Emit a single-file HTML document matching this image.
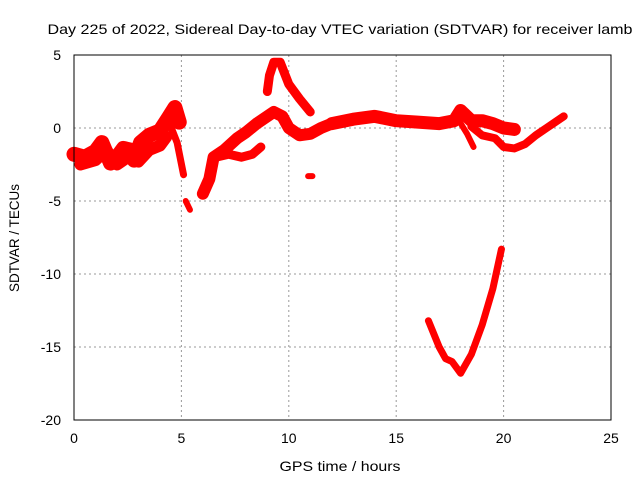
<!DOCTYPE html>
<html><head><meta charset="utf-8"><style>
body{margin:0;background:#fff;font-family:"Liberation Sans",sans-serif}
text{font-family:"Liberation Sans",sans-serif;font-size:14px;fill:#000}
</style></head><body>
<svg id="chart" width="640" height="480">
<text x="340" y="34" text-anchor="middle" textLength="585" lengthAdjust="spacingAndGlyphs">Day 225 of 2022, Sidereal Day-to-day VTEC variation (SDTVAR) for receiver lamb</text>
<g id="grid"></g>
<g id="marks"></g>
<rect x="74" y="55" width="537" height="365" fill="none" stroke="#000" stroke-width="1"/>
<g id="ticks"></g>
<text x="340" y="471" text-anchor="middle" textLength="121" lengthAdjust="spacingAndGlyphs">GPS time / hours</text>
<text transform="translate(19,238) rotate(-90)" text-anchor="middle" textLength="108" lengthAdjust="spacingAndGlyphs">SDTVAR / TECUs</text>
</svg>
<script>
const xTicks=[0,5,10,15,20,25];
const yTicks=[5,0,-5,-10,-15,-20];
const segEarly=[[0,-1.8],[0.5,-2],[1,-1.6],[1.3,-1],[1.7,-2.4],[2,-2],[2.3,-1.4],[2.6,-1.5],[2.8,-2.2],[3.1,-1],[3.5,-0.5],[4,-0.2],[4.4,0.7],[4.7,1.4],[4.9,0.4]];
const segEarly2=[[0.3,-2.5],[1,-2.2],[1.5,-1.5],[2,-2.5],[2.5,-2],[3,-2.3],[3.5,-1.5],[4,-1.2],[4.3,-0.6]];
const segFall=[[4.4,0.5],[4.8,-1],[5.1,-3.2]];
const segDot5=[[5.2,-5],[5.4,-5.6]];
const segRise=[[6,-4.5],[6.3,-3.5],[6.5,-2],[7,-1.5],[7.6,-0.7],[8,-0.3],[8.5,0.3],[9,0.8],[9.3,1.1],[9.7,0.8],[10,0],[10.5,-0.5],[11,-0.4],[11.5,0],[12,0.3]];
const segLow=[[6.6,-2],[7.2,-1.8],[7.8,-2],[8.3,-1.8],[8.7,-1.3]];
const segPeak=[[9,2.5],[9.1,3.6],[9.3,4.5],[9.6,4.5],[10,3],[10.5,2],[11,1.1]];
const segMid=[[12,0.3],[13,0.6],[14,0.8],[15,0.5],[16,0.4],[17,0.3],[17.7,0.5],[18,1.2],[18.5,0.5],[19,0.5],[19.5,0.3],[20,0],[20.5,-0.1]];
const segDrop=[[17.8,0.8],[18.3,-0.4],[18.6,-1.3]];
const segLoop=[[18.5,0.1],[19,-0.5],[19.6,-0.7],[20,-1.3],[20.5,-1.4],[21,-1.1],[21.5,-0.5],[22,0],[22.8,0.8]];
const segDip=[[16.5,-13.2],[17,-15],[17.3,-15.8],[17.6,-16],[18,-16.8],[18.5,-15.5],[19,-13.5],[19.5,-11],[19.9,-8.3]];
const segDot11=[[10.9,-3.3],[11.1,-3.3]];
const series=[[segEarly,15],[segEarly2,12],[segFall,7],[segDot5,6],[segRise,12],[segLow,9],[segPeak,9],[segMid,13],[segDrop,6],[segLoop,8],[segDip,7],[segDot11,6]];
const X=h=>74+h*537/25, Y=v=>55+(5-v)*365/25;
const NS="http://www.w3.org/2000/svg";
const grid=document.getElementById('grid'),ticks=document.getElementById('ticks'),marks=document.getElementById('marks');
function mk(tag,at,parent){const e=document.createElementNS(NS,tag);for(const k in at)e.setAttribute(k,at[k]);parent.appendChild(e);return e;}
xTicks.forEach(t=>{
  if(t>0&&t<25){const g=mk('line',{x1:X(t),x2:X(t),y1:55,y2:420,stroke:'#999','stroke-dasharray':'2,3'},grid);
  
  }
  const l=mk('text',{x:X(t),y:443,'text-anchor':'middle'},ticks);l.textContent=t;
  
  
});
yTicks.forEach(t=>{
  if(t<5&&t>-20){const g=mk('line',{x1:74,x2:611,y1:Y(t),y2:Y(t),stroke:'#999','stroke-dasharray':'2,3'},grid);
  
  }
  const l=mk('text',{x:61,y:Y(t)+5,'text-anchor':'end'},ticks);l.textContent=t;
  
  
});
series.forEach(([pts,w])=>{
  const p=mk('polyline',{points:pts.map(q=>X(q[0])+','+Y(q[1])).join(' '),fill:'none',stroke:'#f00','stroke-width':w,'stroke-linejoin':'round','stroke-linecap':'round'},marks);
  
  
});
</script>
</body></html>
